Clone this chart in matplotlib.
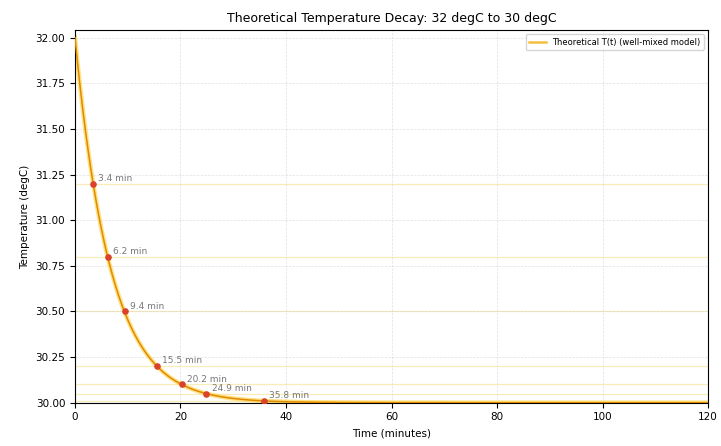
import numpy as np
import matplotlib
matplotlib.use("Agg")
import matplotlib.pyplot as plt

# Model parameters
T_start = 32.0
T_end = 30.0
tau = 6.75  # minutes

# Threshold temperatures and labelled times
thresholds = [31.2, 30.8, 30.5, 30.2, 30.1, 30.05, 30.01]
times = [3.4, 6.2, 9.4, 15.5, 20.2, 24.9, 35.8]
labels = ["3.4 min", "6.2 min", "9.4 min", "15.5 min", "20.2 min", "24.9 min", "35.8 min"]

t = np.linspace(0, 120, 1200)
T = T_end + (T_start - T_end) * np.exp(-t / tau)

fig = plt.figure(figsize=(7.21, 4.46), dpi=100)
ax = fig.add_axes([0.104, 0.097, 0.878, 0.835])

for y in thresholds:
    ax.axhline(y, color="#F5E08A", lw=0.9, alpha=0.6, zorder=1)

ax.plot(t, T, color="#FFD54F", lw=3.2, alpha=0.7, zorder=2)
ax.plot(t, T, color="#E08A00", lw=1.1, zorder=3, label="Theoretical T(t) (well-mixed model)")

ax.scatter(times, thresholds, color="#D9412B", s=14, zorder=4)
for x, y, lab in zip(times, thresholds, labels):
    ax.annotate(lab, (x, y), xytext=(4, 2), textcoords="offset points",
                fontsize=6.5, color="#777777")

ax.set_xlim(0, 120)
ax.set_ylim(30.0, 32.04)
ax.set_yticks([30.0, 30.25, 30.5, 30.75, 31.0, 31.25, 31.5, 31.75, 32.0])
ax.set_yticklabels(["30.00", "30.25", "30.50", "30.75", "31.00", "31.25", "31.50", "31.75", "32.00"])
ax.tick_params(labelsize=7.5)
ax.grid(True, ls="--", lw=0.5, color="#cccccc", alpha=0.6)
ax.set_xlabel("Time (minutes)", fontsize=7.5)
ax.set_ylabel("Temperature (degC)", fontsize=7.5)
ax.set_title("Theoretical Temperature Decay: 32 degC to 30 degC", fontsize=9)
leg = ax.legend(loc="upper right", fontsize=6, frameon=True)
leg.get_lines()[0].set_color("#F5C040")
leg.get_lines()[0].set_linewidth(1.8)

fig.savefig("out.png", dpi=100)
